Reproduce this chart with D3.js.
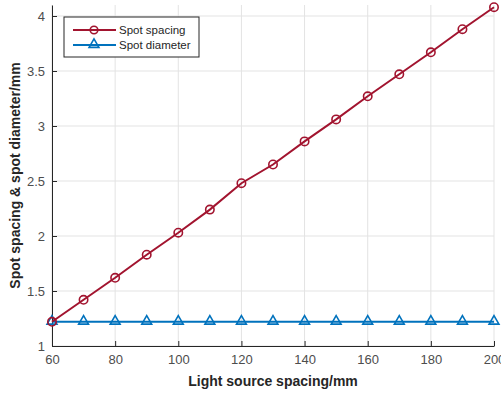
<!DOCTYPE html>
<html>
<head>
<meta charset="utf-8">
<script src="https://cdn.jsdelivr.net/npm/d3@7"></script>
<style>
  body { margin: 0; background: #fff; }
  text { font-family: "Liberation Sans", Arial, sans-serif; }
</style>
</head>
<body>
<div id="chart"></div>
<script>
// red #A2142F, blue #0072BD

var xValues = [60, 70, 80, 90, 100, 110, 120, 130, 140, 150, 160, 170, 180, 190, 200];
var spotSpacing = [1.22, 1.42, 1.62, 1.83, 2.03, 2.24, 2.48, 2.65, 2.86, 3.06, 3.27, 3.47, 3.67, 3.88, 4.08];
var spotDiameter = [1.22, 1.22, 1.22, 1.22, 1.22, 1.22, 1.22, 1.22, 1.22, 1.22, 1.22, 1.22, 1.22, 1.22, 1.22];
var xTicks = [60, 80, 100, 120, 140, 160, 180, 200];
var yTicks = [1, 1.5, 2, 2.5, 3, 3.5, 4];
var seriesNames = ["Spot spacing", "Spot diameter"];

var width = 501,
    height = 394,
    margin = { top: 5, right: 7, bottom: 48, left: 52 };

var svg = d3.select("#chart").append("svg")
    .attr("width", width)
    .attr("height", height);

var xScale = d3.scaleLinear().domain([60, 200]).range([margin.left, width - margin.right]);
var yScale = d3.scaleLinear().domain([1, 4.1]).range([height - margin.bottom, margin.top]);

// grid
svg.append("g")
    .selectAll("line")
    .data(xTicks)
    .enter()
    .append("line")
    .attr("x1", function (d) { return xScale(d); })
    .attr("x2", function (d) { return xScale(d); })
    .attr("y1", yScale.range()[0])
    .attr("y2", yScale.range()[1])
    .style("stroke", "#e3e3e3")
    .style("stroke-width", 1);

svg.append("g")
    .selectAll("line")
    .data(yTicks)
    .enter()
    .append("line")
    .attr("x1", xScale.range()[0])
    .attr("x2", xScale.range()[1])
    .attr("y1", function (d) { return yScale(d); })
    .attr("y2", function (d) { return yScale(d); })
    .style("stroke", "#e3e3e3")
    .style("stroke-width", 1);

// axes (ticks pointing inward)
var xAxis = svg.append("g")
    .attr("transform", "translate(0," + yScale.range()[0] + ")")
    .call(d3.axisBottom(xScale).tickValues(xTicks).tickSizeInner(-5).tickSizeOuter(0).tickPadding(9));

var yAxis = svg.append("g")
    .attr("transform", "translate(" + xScale.range()[0] + ",0)")
    .call(d3.axisLeft(yScale).tickValues(yTicks).tickSizeInner(-5).tickSizeOuter(0).tickPadding(7)
        .tickFormat(function (d) { return d; }));

[xAxis, yAxis].forEach(function (a) {
    a.select(".domain").style("stroke", "#262626").style("stroke-width", 1);
    a.selectAll(".tick line").style("stroke", "#262626");
    a.selectAll(".tick text")
        .style("font-size", "13px")
        .style("fill", "#4d4d4d")
        .style("font-family", "'Liberation Sans', Arial, sans-serif");
});

// axis titles
svg.append("text")
    .attr("x", (xScale.range()[0] + xScale.range()[1]) / 2)
    .attr("y", 386)
    .attr("text-anchor", "middle")
    .style("font-size", "14px")
    .style("font-weight", "bold")
    .style("fill", "#262626")
    .text("Light source spacing/mm");

svg.append("text")
    .attr("transform", "translate(20," + ((yScale.range()[0] + yScale.range()[1]) / 2) + ") rotate(-90)")
    .attr("text-anchor", "middle")
    .style("font-size", "14px")
    .style("font-weight", "bold")
    .style("fill", "#262626")
    .text("Spot spacing & spot diameter/mm");

// lines
var line = d3.line()
    .x(function (d) { return xScale(d[0]); })
    .y(function (d) { return yScale(d[1]); });

var spacingData = xValues.map(function (x, i) { return [x, spotSpacing[i]]; });
var diameterData = xValues.map(function (x, i) { return [x, spotDiameter[i]]; });

var red = "#a2142f", blue = "#0072bd";
var triangle = d3.symbol().type(d3.symbolTriangle).size(42);

svg.append("path")
    .datum(diameterData)
    .attr("d", line)
    .style("fill", "none")
    .style("stroke", blue)
    .style("stroke-width", 2);

svg.append("g")
    .selectAll("path")
    .data(diameterData)
    .enter()
    .append("path")
    .attr("d", triangle)
    .attr("transform", function (d) { return "translate(" + xScale(d[0]) + "," + (yScale(d[1]) - 0.5) + ")"; })
    .style("fill", "none")
    .style("stroke", blue)
    .style("stroke-width", 1.6);

svg.append("path")
    .datum(spacingData)
    .attr("d", line)
    .style("fill", "none")
    .style("stroke", red)
    .style("stroke-width", 2);

svg.append("g")
    .selectAll("circle")
    .data(spacingData)
    .enter()
    .append("circle")
    .attr("cx", function (d) { return xScale(d[0]); })
    .attr("cy", function (d) { return yScale(d[1]); })
    .attr("r", 4.2)
    .style("fill", "none")
    .style("stroke", red)
    .style("stroke-width", 1.6);

// legend
var legend = svg.append("g").attr("transform", "translate(64,17)");

legend.append("rect")
    .attr("width", 135)
    .attr("height", 40)
    .style("fill", "#fff")
    .style("stroke", "#262626")
    .style("stroke-width", 1);

var legendRows = legend.selectAll(".row")
    .data(seriesNames)
    .enter()
    .append("g")
    .attr("transform", function (d, i) { return "translate(0," + (13 + i * 15) + ")"; });

legendRows.append("line")
    .attr("x1", 9)
    .attr("x2", 52)
    .style("stroke", function (d, i) { return i === 0 ? red : blue; })
    .style("stroke-width", 2);

legendRows.each(function (d, i) {
    var g = d3.select(this);
    if (i === 0) {
        g.append("circle").attr("cx", 30).attr("r", 3.8)
            .style("fill", "none").style("stroke", red).style("stroke-width", 1.6);
    } else {
        g.append("path").attr("d", triangle).attr("transform", "translate(30,-0.5)")
            .style("fill", "none").style("stroke", blue).style("stroke-width", 1.6);
    }
});

legendRows.append("text")
    .attr("x", 55)
    .attr("dominant-baseline", "central")
    .style("font-size", "11.5px")
    .style("fill", "#262626")
    .text(function (d) { return d; });
</script>
</body>
</html>
